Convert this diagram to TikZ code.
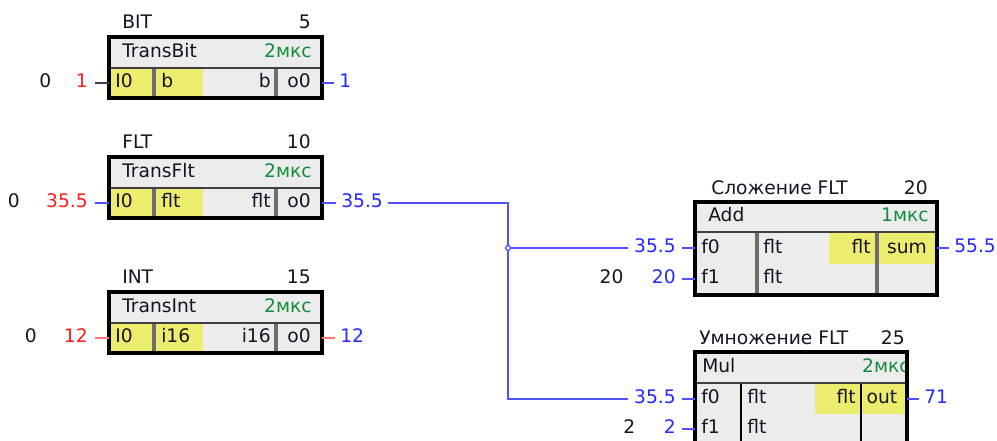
\documentclass[tikz,border=0pt]{standalone}
\usepackage{fontspec}
\setmainfont{DejaVu Sans}
\definecolor{boxgray}{RGB}{236,236,236}
\definecolor{yel}{RGB}{236,236,110}
\definecolor{lblred}{RGB}{255,30,30}
\definecolor{lblblue}{RGB}{40,40,255}
\definecolor{wblue}{RGB}{80,80,255}
\definecolor{wpink}{RGB}{255,120,120}
\definecolor{wdark}{RGB}{60,60,80}
\definecolor{tgreen}{RGB}{20,140,60}
\definecolor{txt}{RGB}{20,20,35}
\definecolor{sepgray}{RGB}{110,110,110}
\tikzset{
  every node/.style={inner sep=0pt, font=\fontsize{14}{16}\selectfont, text height=10pt, text depth=3pt, text=txt},
  redlbl/.style={text=lblred},
  bluelbl/.style={text=lblblue},
  grn/.style={text=tgreen},
  wire/.style={line width=1.8pt, draw=wblue},
  border/.style={draw=black, line width=2.6pt},
  colsep/.style={draw=sepgray, line width=2.3pt},
  hsep/.style={draw=black!75, line width=1.6pt},
}
% #1 name, #2 top, #3 title, #4 number, #5 header, #6 type
\newcommand{\lblock}[6]{%
  \fill[boxgray] (109,#2) rectangle (322,#2+61);
  \fill[yel] (109,#2+31) rectangle (203,#2+61);
  \draw[colsep] (154,#2+31) -- (154,#2+61);
  \draw[colsep] (276,#2+31) -- (276,#2+61);
  \draw[hsep] (109,#2+31) -- (322,#2+31);
  \draw[border] (109,#2) rectangle (322,#2+61);
  \node[anchor=west] (#1title) at (122,#2-13) {#3};
  \node[anchor=east] (#1num) at (311,#2-13) {#4};
  \node[anchor=west] (#1hdr) at (122,#2+15.5) {#5};
  \node[anchor=east,grn] (#1time) at (312,#2+15.5) {2мкс};
  \node[anchor=west] (#1pi) at (115,#2+46) {I0};
  \node[anchor=west] (#1ti) at (161,#2+46) {#6};
  \node[anchor=east] (#1to) at (271,#2+46) {#6};
  \node (#1po) at (299,#2+46) {o0};
  \coordinate (#1in) at (109,#2+46);
  \coordinate (#1out) at (322,#2+46);
}
\begin{document}
\begin{tikzpicture}[x=0.75pt,y=-0.75pt]
\useasboundingbox (0,0) rectangle (997,441);
\clip (0,0) rectangle (997,441);

% ---------- left blocks ----------
\lblock{bit}{37}{BIT}{5}{TransBit}{b}
\lblock{flt}{157}{FLT}{10}{TransFlt}{flt}
\lblock{int}{292}{INT}{15}{TransInt}{i16}

% BIT values
\node[redlbl,anchor=east] (bitv) at (88,83) {1};
\node[anchor=east] (bitc) at ([xshift=-18pt]bitv.west) {0};
\draw[line width=1.8pt, draw=wdark] ([xshift=5pt]bitv.east) -- (bitin);
\node[bluelbl,anchor=west] (bito) at (339,83) {1};
\draw[wire] (bitout) -- ([xshift=-4pt]bito.west);

% FLT values
\node[redlbl,anchor=east] (fltv) at (88,203) {35.5};
\node[anchor=east] (fltc) at ([xshift=-19.5pt]fltv.west) {0};
\draw[wire] ([xshift=5pt]fltv.east) -- (fltin);
\node[bluelbl,anchor=west] (flto) at (341,203) {35.5};
\draw[wire] (fltout) -- ([xshift=-4pt]flto.west);

% INT values
\node[redlbl,anchor=east] (intv) at (88,338) {12};
\node[anchor=east] (intc) at ([xshift=-20pt]intv.west) {0};
\draw[line width=1.8pt, draw=wpink] ([xshift=5pt]intv.east) -- (intin);
\node[bluelbl,anchor=west] (into) at (340,338) {12};
\draw[line width=1.8pt, draw=wpink] (intout) -- ([xshift=-4pt]into.west);

% ---------- Add block ----------
\fill[boxgray] (695,202) rectangle (937,295);
\fill[yel] (829,232) rectangle (937,264);
\draw[colsep] (757,232) -- (757,295);
\draw[colsep] (877,232) -- (877,295);
\draw[hsep] (695,232) -- (937,232);
\draw[border] (695,202) rectangle (937,295);
\node[anchor=west] (addtitle) at (711,190) {Сложение FLT};
\node[anchor=east] (addnum) at (928,190) {20};
\node[anchor=west] (addhdr) at (708,217) {Add};
\node[anchor=east,grn] (addtime) at (929,217) {1мкс};
\node[anchor=west] (addp0) at (701,249) {f0};
\node[anchor=west] (addt0) at (763,249) {flt};
\node[anchor=east] (addto) at (871,249) {flt};
\node (addpo) at (907,249) {sum};
\node[anchor=west] (addp1) at (701,279) {f1};
\node[anchor=west] (addt1) at (763,279) {flt};
\coordinate (addf0) at (695,248);
\coordinate (addf1) at (695,279);
\coordinate (addout) at (937,248);

% ---------- Mul block ----------
\fill[boxgray] (695,352) rectangle (907,447);
\fill[yel] (815,383) rectangle (907,414);
\draw[draw=black, line width=1.4pt] (741,383) -- (741,447);
\draw[draw=black, line width=1.4pt] (861,383) -- (861,447);
\node[anchor=east,grn] (multime) at (910,368) {2мкс};
\draw[hsep] (695,383) -- (907,383);
\draw[border] (695,352) rectangle (907,447);
\node[anchor=west] (multitle) at (699,340) {Умножение FLT};
\node[anchor=east] (mulnum) at (905,340) {25};
\node[anchor=west] (mulhdr) at (702,368) {Mul};
\node[anchor=west] (mulp0) at (701,399) {f0};
\node[anchor=west] (mult0) at (747,399) {flt};
\node[anchor=east] (multo) at (856,399) {flt};
\node (mulpo) at (882,399) {out};
\node[anchor=west] (mulp1) at (701,429) {f1};
\node[anchor=west] (mult1) at (747,429) {flt};
\coordinate (mulf0) at (695,399);
\coordinate (mulf1) at (695,429);
\coordinate (mulout) at (907,399);

% ---------- Add inputs / output ----------
\node[bluelbl,anchor=east] (addv0) at (676,248) {35.5};
\draw[wire] ([xshift=4.5pt]addv0.east) -- (addf0);
\node[bluelbl,anchor=east] (addv1) at (676,279) {20};
\node[anchor=east] (addc1) at ([xshift=-21pt]addv1.west) {20};
\draw[wire] ([xshift=4.5pt]addv1.east) -- (addf1);
\node[bluelbl,anchor=west] (addo) at (954,248) {55.5};
\draw[wire] (addout) -- ([xshift=-3.5pt]addo.west);

% ---------- Mul inputs / output ----------
\node[bluelbl,anchor=east] (mulv0) at (676,399) {35.5};
\draw[wire] ([xshift=4.5pt]mulv0.east) -- (mulf0);
\node[bluelbl,anchor=east] (mulv1) at (676,429) {2};
\node[anchor=east] (mulc1) at ([xshift=-21pt]mulv1.west) {2};
\draw[wire] ([xshift=4.5pt]mulv1.east) -- (mulf1);
\node[bluelbl,anchor=west] (mulo) at (924,399) {71};
\draw[wire] (mulout) -- ([xshift=-3.5pt]mulo.west);

% ---------- net from FLT output ----------
\coordinate (j1) at (508,203);
\coordinate (jn) at (508,248);
\coordinate (j2) at (508,399);
\draw[wire] ([xshift=4pt]flto.east) -- (j1) -- (j2) -- ([xshift=-4.5pt]mulv0.west);
\draw[wire] (jn) -- ([xshift=-4.5pt]addv0.west);
\draw[draw=wblue, line width=1pt, fill=white] (jn) circle[radius=1.8pt];
\end{tikzpicture}
\end{document}
